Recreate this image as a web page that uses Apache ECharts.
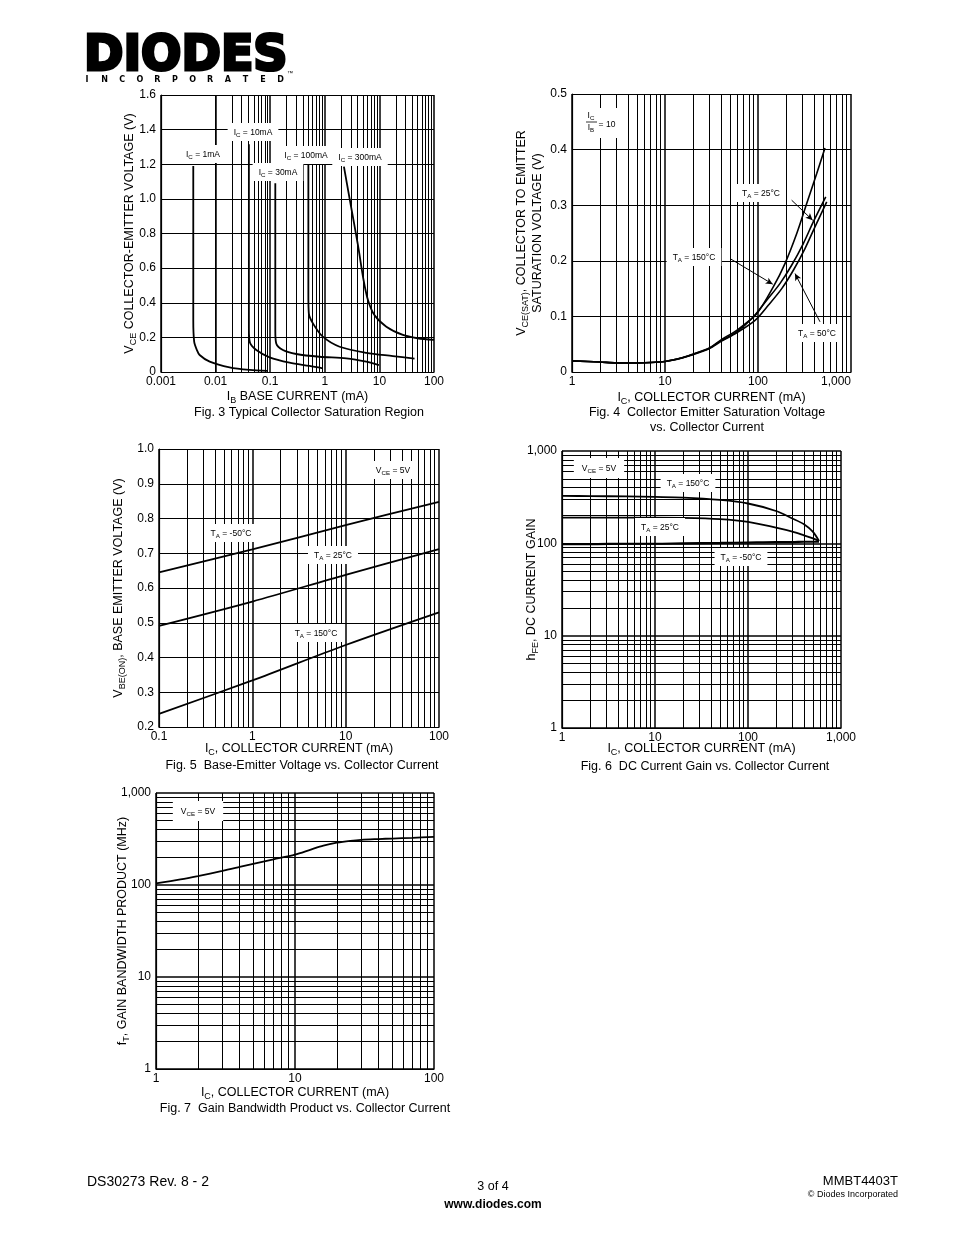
<!DOCTYPE html>
<html><head><meta charset="utf-8">
<script src="https://cdn.jsdelivr.net/npm/echarts@6/dist/echarts.min.js"></script>
<style>html,body{margin:0;padding:0;background:#fff}#c{width:954px;height:1235px}</style>
</head><body><div id="c"></div><script>
const FONT = '"Liberation Sans", Arial, Helvetica, sans-serif';

// ---------- Fig 3: Typical Collector Saturation Region ----------
const f3XTicks = ['0.001', '0.01', '0.1', '1', '10', '100'];
const f3YTicks = ['0', '0.2', '0.4', '0.6', '0.8', '1.0', '1.2', '1.4', '1.6'];
const f3Ic1X = [0.0039, 0.0039, 0.00405, 0.0045, 0.0051, 0.0078, 0.018, 0.042, 0.09];
const f3Ic1Y = [1.19, 0.30, 0.175, 0.13, 0.098, 0.06, 0.027, 0.012, 0.006];
const f3Ic10X = [0.0407, 0.0407, 0.0425, 0.0556, 0.0975, 0.226, 0.527, 0.92];
const f3Ic10Y = [1.315, 0.25, 0.17, 0.127, 0.085, 0.054, 0.035, 0.021];
const f3Ic30X = [0.124, 0.124, 0.129, 0.171, 0.30, 0.80, 2.48, 5.75, 9.8];
const f3Ic30Y = [1.09, 0.24, 0.165, 0.127, 0.104, 0.088, 0.079, 0.06, 0.04];
const f3Ic100X = [0.5, 0.5, 0.51, 0.606, 0.92, 1.87, 5.75, 17.7, 44];
const f3Ic100Y = [1.21, 0.45, 0.339, 0.281, 0.204, 0.146, 0.111, 0.092, 0.077];
const f3Ic300X = [2.24, 2.84, 4.04, 5.13, 6.17, 8.1, 13.4, 26.9, 50, 100];
const f3Ic300Y = [1.186, 1.003, 0.734, 0.531, 0.416, 0.329, 0.262, 0.214, 0.195, 0.185];

// ---------- Fig 4: VCE(SAT) vs IC ----------
const f4XTicks = ['1', '10', '100', '1,000'];
const f4YTicks = ['0', '0.1', '0.2', '0.3', '0.4', '0.5'];
const f4T150X = [1, 2, 3, 5, 7, 10, 15, 20, 30, 40.7, 59, 97, 146, 195, 261, 334, 428, 525];
const f4T150Y = [0.020, 0.018, 0.0165, 0.0165, 0.017, 0.019, 0.025, 0.032, 0.043, 0.0587, 0.075, 0.105, 0.153, 0.195, 0.249, 0.303, 0.357, 0.403];
const f4T25X = [1, 2, 3, 5, 7, 10, 15, 20, 30, 40, 59, 89, 124, 172, 230, 307, 393, 535];
const f4T25Y = [0.020, 0.018, 0.0165, 0.0165, 0.017, 0.019, 0.025, 0.032, 0.043, 0.056, 0.072, 0.099, 0.129, 0.159, 0.192, 0.231, 0.27, 0.315];
const f4T50X = [1, 2, 3, 5, 7, 10, 15, 20, 30, 40, 59, 93, 129, 180, 240, 320, 410, 548];
const f4T50Y = [0.020, 0.018, 0.0165, 0.0165, 0.017, 0.019, 0.025, 0.031, 0.042, 0.055, 0.0706, 0.093, 0.12, 0.15, 0.183, 0.222, 0.261, 0.306];

// ---------- Fig 5: VBE(ON) vs IC ----------
const f5XTicks = ['0.1', '1', '10', '100'];
const f5YTicks = ['0.2', '0.3', '0.4', '0.5', '0.6', '0.7', '0.8', '0.9', '1.0'];
const f5X = [0.1, 1, 10, 100];
const f5Tm50 = [0.645, 0.711, 0.781, 0.848];
const f5T25 = [0.491, 0.561, 0.638, 0.712];
const f5T150 = [0.238, 0.334, 0.436, 0.530];

// ---------- Fig 6: hFE vs IC ----------
const f6XTicks = ['1', '10', '100', '1,000'];
const f6YTicks = ['1', '10', '100', '1,000'];
const f6X = [1, 2, 5, 10, 20, 50, 100, 200, 300, 400, 500, 580];
const f6T150 = [326, 325, 322, 318, 313, 295, 270, 224, 186, 161, 133, 106];
const f6T25 = [190, 190, 190, 190, 189, 183, 171, 148, 134, 122, 113, 106];
const f6Tm50 = [98, 98, 99, 99, 100, 101, 102, 103, 103, 104, 104, 104];

// ---------- Fig 7: fT vs IC ----------
const f7XTicks = ['1', '10', '100'];
const f7YTicks = ['1', '10', '100', '1,000'];
const f7X = [1, 1.5, 2, 3, 4, 5, 7, 10, 13, 16, 20, 25, 30, 40, 50, 70, 100];
const f7Ft = [104, 115, 125, 142, 157, 170, 190, 214, 243, 268, 288, 302, 310, 316, 320, 326, 333];

// ---------- helpers ----------
const zip = (xs, ys) => xs.map((x, i) => [x, ys[i]]);
const richAxis = {
  m: { fontSize: 12.5, color: '#000', fontFamily: FONT, lineHeight: 16 },
  s: { fontSize: 9, color: '#000', fontFamily: FONT, lineHeight: 9, verticalAlign: 'bottom' }
};
function rt(parts) {
  return parts.map((p, i) => p === '' ? '' : (i % 2 ? '{s|' + p + '}' : '{m|' + p + '}')).join('');
}
const axisLine = { show: true, lineStyle: { color: '#000', width: 1.2 } };
const tickLabel = { color: '#000', fontSize: 12, fontFamily: FONT };

function logAxis(grid, minE, maxE, labels, name, gap, isY, extra) {
  return Object.assign({
    type: 'log', logBase: 10, gridIndex: grid,
    min: Math.pow(10, minE), max: Math.pow(10, maxE),
    name: name, nameLocation: 'middle', nameGap: gap, nameMoveOverlap: false,
    nameTextStyle: { color: '#000', fontSize: 12.5, fontFamily: FONT, rich: richAxis },
    axisLine: axisLine, axisTick: { show: false },
    axisLabel: Object.assign({ margin: isY ? 5 : 4,
      formatter: v => labels[Math.round(Math.log10(v)) - minE] || '' }, tickLabel),
    splitLine: { show: true, lineStyle: { color: '#000', width: 1.5 } }
  }, extra || {});
}
function valAxis(grid, min, max, step, labels, name, gap, isY) {
  return {
    type: 'value', gridIndex: grid, min: min, max: max, interval: step,
    name: name, nameLocation: 'middle', nameGap: gap, nameMoveOverlap: false,
    nameTextStyle: { color: '#000', fontSize: 12.5, fontFamily: FONT, rich: richAxis },
    axisLine: axisLine, axisTick: { show: false },
    axisLabel: Object.assign({ margin: 5,
      formatter: v => labels[Math.round((v - min) / step)] || '' }, tickLabel),
    splitLine: { show: true, lineStyle: { color: '#000', width: 1.2 } }
  };
}
function minor(minE, maxE, key) {
  const out = [];
  for (let e = minE; e < maxE; e++) for (let k = 2; k <= 9; k++) {
    const o = {}; o[key] = k * Math.pow(10, e); out.push(o);
  }
  return out;
}
function gridSeries(i, lines, extra) {
  return {
    type: 'line', xAxisIndex: i, yAxisIndex: i, data: [], silent: true, z: 1,
    markLine: Object.assign({ silent: true, symbol: ['none', 'none'], animation: false,
      label: { show: false }, lineStyle: { color: '#000', width: 1, type: 'solid' },
      emphasis: { disabled: true }, data: lines }, extra || {})
  };
}
function curve(i, data, w) {
  return { type: 'line', xAxisIndex: i, yAxisIndex: i, data: data, showSymbol: false,
    smooth: 0.3, silent: true, z: 5, lineStyle: { color: '#000', width: w || 1.8 } };
}
const annRich = {
  m: { fontSize: 8.5, fill: '#000', fontFamily: FONT, lineHeight: 11 },
  s: { fontSize: 6.2, fill: '#000', fontFamily: FONT, lineHeight: 6, verticalAlign: 'bottom' }
};
function ann(cx, cy, parts, box) {
  return { type: 'text', x: cx, y: cy, z: 100, silent: true,
    style: { text: parts.map((p, i) => p === '' ? '' : (i % 2 ? '{s|' + p + '}' : '{m|' + p + '}')).join(''),
      rich: annRich, align: 'center', verticalAlign: 'middle',
      backgroundColor: '#fff', padding: box || [4, 6, 3, 6] } };
}
function txt(x, y, t, size, opts) {
  return { type: 'text', x: x, y: y, z: 100, silent: true,
    style: Object.assign({ text: t, fontSize: size, fontFamily: FONT, fill: '#000',
      align: 'center', verticalAlign: 'middle' }, opts || {}) };
}

// ---------- option ----------
const grids = [
  { left: 161, top: 95, width: 273, height: 277 },
  { left: 572, top: 94, width: 279, height: 278 },
  { left: 159, top: 449, width: 280, height: 278 },
  { left: 562, top: 451, width: 279, height: 277 },
  { left: 156, top: 793, width: 278, height: 276 }
];

const xAxes = [
  logAxis(0, -3, 2, f3XTicks, rt(['I', 'B', ' BASE CURRENT (mA)']), 17, false),
  logAxis(1, 0, 3, f4XTicks, rt(['I', 'C', ', COLLECTOR CURRENT (mA)']), 18, false, {}),
  logAxis(2, -1, 2, f5XTicks, rt(['I', 'C', ', COLLECTOR CURRENT (mA)']), 14, false),
  logAxis(3, 0, 3, f6XTicks, rt(['I', 'C', ', COLLECTOR CURRENT (mA)']), 13, false),
  logAxis(4, 0, 2, f7XTicks, rt(['I', 'C', ', COLLECTOR CURRENT (mA)']), 16, false)
];
xAxes[1].axisLabel.alignMaxLabel = 'right';

const yAxes = [
  valAxis(0, 0, 1.6, 0.2, f3YTicks, rt(['V', 'CE', ' COLLECTOR-EMITTER VOLTAGE (V)']), 23, true),
  valAxis(1, 0, 0.5, 0.1, f4YTicks,
    rt(['V', 'CE(SAT)', ', COLLECTOR TO EMITTER']) + '\n' + rt(['SATURATION VOLTAGE (V)']), 26, true),
  valAxis(2, 0.2, 1.0, 0.1, f5YTicks, rt(['V', 'BE(ON)', ', BASE EMITTER VOLTAGE (V)']), 32, true),
  logAxis(3, 0, 3, f6YTicks, rt(['h', 'FE', ', DC CURRENT GAIN']), 22, true),
  logAxis(4, 0, 3, f7YTicks, rt(['f', 'T', ', GAIN BANDWIDTH PRODUCT (MHz)']), 25, true)
];

const series = [
  gridSeries(0, minor(-3, 2, 'xAxis')),
  gridSeries(1, minor(0, 3, 'xAxis')),
  gridSeries(2, minor(-1, 2, 'xAxis')),
  gridSeries(3, minor(0, 3, 'xAxis').concat(minor(0, 3, 'yAxis'))),
  gridSeries(4, minor(0, 2, 'xAxis').concat(minor(0, 3, 'yAxis'))),
  // Fig 4 arrows
  gridSeries(1, [
    [{ coord: [230, 0.309] }, { coord: [387, 0.273] }],
    [{ coord: [50, 0.204] }, { coord: [144, 0.158] }],
    [{ coord: [464, 0.0903] }, { coord: [250, 0.177] }]
  ], { symbol: ['none', 'arrow'], symbolSize: [5, 7] }),
  curve(0, zip(f3Ic1X, f3Ic1Y)), curve(0, zip(f3Ic10X, f3Ic10Y)), curve(0, zip(f3Ic30X, f3Ic30Y)),
  curve(0, zip(f3Ic100X, f3Ic100Y)), curve(0, zip(f3Ic300X, f3Ic300Y)),
  curve(1, zip(f4T150X, f4T150Y), 1.6), curve(1, zip(f4T25X, f4T25Y), 1.6), curve(1, zip(f4T50X, f4T50Y), 1.6),
  curve(2, zip(f5X, f5Tm50)), curve(2, zip(f5X, f5T25)), curve(2, zip(f5X, f5T150)),
  curve(3, zip(f6X, f6T150)), curve(3, zip(f6X, f6T25)), curve(3, zip(f6X, f6Tm50), 2.2),
  curve(4, zip(f7X, f7Ft))
];

const graphics = [
  // logo
  { type: 'text', x: 84, y: 57.5, z: 100, scaleX: 0.95, silent: true,
    style: { text: 'DIODES', fontSize: 50, fontWeight: 'bold', fontFamily: '"DejaVu Sans", sans-serif',
      fill: '#000', stroke: '#000', lineWidth: 3.2, align: 'left', verticalAlign: 'middle' } },
  txt(290, 73, '™', 6),
  // Fig 3 annotations
  ann(203, 154, ['I', 'C', ' = 1mA']),
  ann(253, 132, ['I', 'C', ' = 10mA']),
  ann(306, 155, ['I', 'C', ' = 100mA']),
  ann(278, 172, ['I', 'C', ' = 30mA']),
  ann(360, 157, ['I', 'C', ' = 300mA']),
  // Fig 4 annotations
  { type: 'rect', z: 99, silent: true, shape: { x: 583, y: 108, width: 36, height: 30 }, style: { fill: '#fff' } },
  ann(591, 116, ['I', 'C', ''], [0, 0, 0, 0]),
  { type: 'line', z: 101, silent: true, shape: { x1: 586, y1: 122, x2: 597, y2: 122 }, style: { stroke: '#000', lineWidth: 0.8 } },
  ann(591, 128, ['I', 'B', ''], [0, 0, 0, 0]),
  ann(607, 125, ['= 10'], [0, 0, 0, 0]),
  ann(761, 193, ['T', 'A', ' = 25°C']),
  ann(694, 257, ['T', 'A', ' = 150°C']),
  ann(817, 333, ['T', 'A', ' = 50°C']),
  // Fig 5 annotations
  ann(393, 470, ['V', 'CE', ' = 5V']),
  ann(231, 533, ['T', 'A', ' = -50°C']),
  ann(333, 555, ['T', 'A', ' = 25°C']),
  ann(316, 633, ['T', 'A', ' = 150°C']),
  // Fig 6 annotations
  ann(599, 468, ['V', 'CE', ' = 5V'], [5, 8, 4, 8]),
  ann(688, 483, ['T', 'A', ' = 150°C']),
  ann(660, 527, ['T', 'A', ' = 25°C']),
  ann(741, 557, ['T', 'A', ' = -50°C']),
  // Fig 7 annotation
  ann(198, 811, ['V', 'CE', ' = 5V'], [5, 8, 4, 8]),
  // captions
  txt(309, 413, 'Fig. 3 Typical Collector Saturation Region', 12.5),
  txt(707, 413, 'Fig. 4  Collector Emitter Saturation Voltage', 12.5),
  txt(707, 428, 'vs. Collector Current', 12.5),
  txt(302, 766, 'Fig. 5  Base-Emitter Voltage vs. Collector Current', 12.5),
  txt(705, 767, 'Fig. 6  DC Current Gain vs. Collector Current', 12.5),
  txt(305, 1109, 'Fig. 7  Gain Bandwidth Product vs. Collector Current', 12.5),
  // footer
  txt(87, 1182, 'DS30273 Rev. 8 - 2', 14, { align: 'left' }),
  txt(493, 1187, '3 of 4', 12.5),
  txt(493, 1205, 'www.diodes.com', 12, { fontWeight: 'bold' }),
  txt(898, 1181, 'MMBT4403T', 13, { align: 'right' }),
  txt(898, 1195, '© Diodes Incorporated', 9, { align: 'right' })
];
'INCORPORATED'.split('').forEach((ch, i) => {
  graphics.push(txt(87 + i * 17.6, 80, ch, 8, { fontWeight: 'bold', fontFamily: '"DejaVu Sans", sans-serif' }));
});

const chart = echarts.init(document.getElementById('c'), null, { renderer: 'canvas' });
chart.setOption({
  animation: false,
  backgroundColor: '#fff',
  grid: grids,
  xAxis: xAxes,
  yAxis: yAxes,
  series: series,
  graphic: graphics
});
</script></body></html>
